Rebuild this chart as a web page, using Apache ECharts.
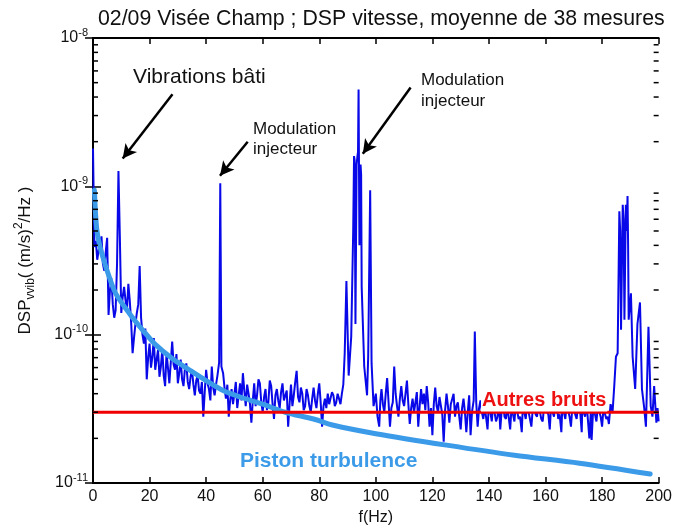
<!DOCTYPE html>
<html>
<head>
<meta charset="utf-8">
<script src="https://cdn.jsdelivr.net/npm/echarts@6/dist/echarts.min.js"></script>
<style>
html,body{margin:0;padding:0;background:#fff;}
#chart{width:675px;height:531px;}
</style>
</head>
<body>
<div id="chart"></div>
<script>
// ---- data ----
const titleText = '02/09 Visée Champ ; DSP vitesse, moyenne de 38 mesures';
const xTicks = [0, 20, 40, 60, 80, 100, 120, 140, 160, 180, 200];
const yDecades = [1e-11, 1e-10, 1e-9, 1e-8];
const yMinorTicks = [2e-11,3e-11,4e-11,5e-11,6e-11,7e-11,8e-11,9e-11,
                     2e-10,3e-10,4e-10,5e-10,6e-10,7e-10,8e-10,9e-10,
                     2e-9,3e-9,4e-9,5e-9,6e-9,7e-9,8e-9,9e-9];
// measured velocity PSD [f (Hz), DSP ((m/s)^2/Hz)]
const dspSpectrum = [
[0,1.8e-9],[0.5,3.9e-10],[1,4.3e-10],[1.5,3.2e-10],[2,3.7e-10],[2.5,4.1e-10],[3,4.6e-10],[3.5,3.0e-10],[4,2.7e-10],[4.5,3.6e-10],[5,4.5e-10],[5.5,1.36e-10],[6,2.0e-10],[6.5,2.4e-10],[7,1.6e-10],[7.5,1.3e-10],[8,1.46e-10],[8.5,3.0e-10],[9,1.27e-9],[9.5,4.5e-10],[10,1.4e-10],[10.5,1.8e-10],[11,2.1e-10],[11.5,1.7e-10],[12,1.46e-10],[12.5,2.2e-10],[13,1.7e-10],[13.5,1.2e-10],[14,7.5e-11],[14.5,9.5e-11],[15,1.18e-10],[15.5,1.4e-10],[16,1.6e-10],[16.5,2.9e-10],[17,1.3e-10],[17.5,1.0e-10],
[18,8.7e-11],[18.5,1.1e-10],[19,5.0e-11],[19.5,7.0e-11],[20,8.7e-11],[20.5,6.0e-11],[21,7.1e-11],[21.5,9.5e-11],[22,5.8e-11],[22.5,6.8e-11],[23,7.9e-11],[23.5,5.2e-11],[24,6.1e-11],[24.5,8.0e-11],[25,5.3e-11],[25.5,4.5e-11],[26,7.5e-11],[26.5,6.0e-11],[27,4.7e-11],[27.5,6.5e-11],[28,9.0e-11],[28.5,6.3e-11],[29,5.8e-11],[29.5,7.4e-11],[30,4.7e-11],
[30.5,5.5e-11],[31,6.8e-11],[31.5,5.0e-11],[32,4.5e-11],[32.5,5.9e-11],[33,6.4e-11],[33.5,4.8e-11],[34,4.3e-11],[34.5,5.2e-11],[35,5.8e-11],[35.5,4.6e-11],[36,3.9e-11],[36.5,4.9e-11],[37,5.3e-11],[37.5,4.2e-11],[38,4.0e-11],[38.5,4.8e-11],[39,2.8e-11],[39.5,4.1e-11],[40,5.8e-11],
[40.5,4.7e-11],[41,4.3e-11],[41.5,3.6e-11],[42,6.1e-11],[42.5,4.4e-11],[43,3.9e-11],[43.5,4.6e-11],[44,5.3e-11],[44.6,6.5e-11],[45,1.05e-9],[45.4,6.1e-11],[46,5.5e-11],[46.5,4.4e-11],[47,3.7e-11],[47.5,4.6e-11],[48,2.8e-11],[48.5,3.6e-11],[49,4.3e-11],[49.5,3.4e-11],[50,4.0e-11],[50.5,4.8e-11],
[51,3.2e-11],[51.5,3.9e-11],[52,4.7e-11],[52.5,3.6e-11],[53,5.5e-11],[53.5,4.2e-11],[54,3.3e-11],[54.5,4.6e-11],[55,4.0e-11],[55.5,3.4e-11],[56,2.55e-11],[56.5,3.6e-11],[57,4.7e-11],[57.5,3.3e-11],[58,3.9e-11],[58.5,5.0e-11],[59,4.7e-11],[59.5,3.5e-11],[60,3.0e-11],
[60.5,3.8e-11],[61,4.3e-11],[61.5,3.1e-11],[62,3.5e-11],[62.5,4.9e-11],[63,4.5e-11],[63.5,3.4e-11],[64,2.7e-11],[64.5,3.9e-11],[65,4.3e-11],[65.5,3.6e-11],[66,3.2e-11],[66.5,4.1e-11],[67,4.7e-11],[67.5,3.6e-11],[68,3.5e-11],[68.5,4.2e-11],[69,2.4e-11],[69.5,3.4e-11],[70,4.6e-11],
[70.5,3.3e-11],[71,3.9e-11],[71.5,4.8e-11],[72,5.7e-11],[72.5,3.8e-11],[73,3.5e-11],[73.5,4.4e-11],[74,4.0e-11],[74.5,3.1e-11],[75,3.3e-11],[75.5,4.3e-11],[76,3.9e-11],[76.5,3.3e-11],[77,3.0e-11],[77.5,3.7e-11],[78,4.4e-11],[78.5,3.6e-11],[79,3.2e-11],[79.5,4.0e-11],[80,4.7e-11],
[80.5,3.5e-11],[81,2.4e-11],[81.5,3.3e-11],[82,3.7e-11],[82.5,3.2e-11],[83,4.0e-11],[83.5,3.4e-11],[84,3.5e-11],[84.5,4.1e-11],[85,3.9e-11],[85.5,3.3e-11],[86,3.5e-11],[86.5,4.0e-11],[87,3.7e-11],[87.5,3.4e-11],[88,4.0e-11],[88.5,4.6e-11],
[89,7.5e-11],[89.6,2.3e-10],[90.4,5.3e-11],[91.3,9.7e-11],[92,5.0e-10],[92.3,1.6e-9],[92.5,1.5e-9],[92.8,1.18e-10],[93.2,1.4e-9],[93.5,1.6e-9],[93.7,1.7e-9],[93.9,4.5e-9],[94.2,4.0e-10],[94.4,1.3e-9],[94.6,1.4e-9],[94.8,1.2e-9],[95,2.1e-10],[95.9,6.1e-11],[96.9,3.9e-11],[97.3,7.1e-11],[98,9.4e-10],[98.5,6.4e-11],[99.2,3.3e-11],[100,4.0e-11],
[100.6,2.8e-11],[101.2,2.4e-11],[101.6,3.6e-11],[102,4.3e-11],[102.5,3.4e-11],[103,3.0e-11],[103.5,4.0e-11],[104,5.1e-11],[104.5,3.5e-11],[105,2.4e-11],[105.5,3.2e-11],[106,3.5e-11],[106.5,6.1e-11],[107,4.0e-11],[107.5,3.3e-11],[108,2.8e-11],[108.5,3.7e-11],[109,4.5e-11],[109.5,3.6e-11],[110,3.3e-11],
[110.5,4.0e-11],[111,4.9e-11],[111.5,3.4e-11],[112,2.5e-11],[112.5,3.2e-11],[113,3.7e-11],[113.5,3.0e-11],[114,3.5e-11],[114.5,4.1e-11],[115,2.4e-11],[115.5,3.3e-11],[116,4.3e-11],[116.5,3.4e-11],[117,4.0e-11],[117.5,3.1e-11],[118,4.5e-11],[118.5,3.5e-11],[119,2.4e-11],[119.5,3.2e-11],[120,2.1e-11],
[120.5,3.4e-11],[121,4.4e-11],[121.5,3.3e-11],[122,3.0e-11],[122.5,3.8e-11],[123,3.7e-11],[123.5,2.9e-11],[124,1.9e-11],[124.5,3.1e-11],[125,4.0e-11],[125.5,3.3e-11],[126,2.55e-11],[126.5,3.4e-11],[127,3.5e-11],[127.5,4.0e-11],[128,2.8e-11],[128.5,3.3e-11],[129,3.5e-11],[129.5,2.8e-11],[130,2.3e-11],
[130.5,3.2e-11],[131,3.7e-11],[131.5,3.0e-11],[132,2.2e-11],[132.5,3.0e-11],[133,3.9e-11],[133.5,2.1e-11],[134,3.0e-11],[134.6,3.6e-11],[135,1.05e-10],[135.5,3.5e-11],[136,2.4e-11],[136.5,3.2e-11],[137,3.6e-11],[137.5,3.0e-11],[138,2.7e-11],[138.5,3.3e-11],[139,3.4e-11],[139.5,2.3e-11],[140,3.5e-11],
[140.5,3.0e-11],[141,2.6e-11],[141.5,3.4e-11],[142,3.3e-11],[142.5,2.6e-11],[143,2.8e-11],[143.5,3.5e-11],[144,2.3e-11],[144.5,3.1e-11],[145,3.5e-11],[145.5,2.8e-11],[146,2.7e-11],[146.5,3.3e-11],[147,3.4e-11],[147.5,2.3e-11],[148,3.3e-11],[148.5,2.9e-11],[149,2.6e-11],[149.5,3.4e-11],[150,3.5e-11],
[150.5,2.7e-11],[151,2.8e-11],[151.6,2.2e-11],[152,3.4e-11],[152.5,3.0e-11],[153,2.7e-11],[153.5,3.4e-11],[154,3.3e-11],[154.5,2.7e-11],[155,2.4e-11],[155.5,3.2e-11],[156,3.5e-11],[156.5,2.9e-11],[157,2.8e-11],[157.5,3.4e-11],[158,3.4e-11],[158.5,2.7e-11],[159,2.6e-11],[159.5,3.3e-11],[160,3.6e-11],
[160.5,3.0e-11],[161,2.9e-11],[161.5,2.3e-11],[162,3.4e-11],[162.5,3.0e-11],[163,2.8e-11],[163.5,3.5e-11],[164,3.3e-11],[164.5,2.7e-11],[165,2.9e-11],[165.6,2.2e-11],[166,3.5e-11],[166.5,3.0e-11],[167,2.7e-11],[167.5,3.4e-11],[168,3.3e-11],[168.5,2.8e-11],[169,2.4e-11],[169.5,3.3e-11],[170,3.4e-11],
[170.5,2.9e-11],[171,2.7e-11],[171.5,3.3e-11],[172,3.5e-11],[172.8,2.2e-11],[173,3.3e-11],[173.5,3.0e-11],[174,2.8e-11],[174.5,3.5e-11],[175,3.4e-11],[175.5,2.0e-11],[176,3.0e-11],[176.3,1.95e-11],[176.7,2.8e-11],[177,3.3e-11],[177.5,2.9e-11],[178,2.6e-11],[178.5,3.3e-11],[179,3.4e-11],[179.5,2.8e-11],[180,2.4e-11],
[180.5,3.2e-11],[181,3.3e-11],[181.5,2.7e-11],[182,2.8e-11],[182.4,2.5e-11],[183,3.4e-11],[183.7,3.0e-11],[184.3,4.5e-11],[184.9,7.1e-11],[185.5,7.5e-11],[186.1,6.8e-10],[186.4,5.0e-10],[186.7,1.08e-10],[187.3,7.5e-10],[187.6,6.0e-10],[187.9,1.26e-10],[188.4,7.5e-10],[188.7,5.0e-10],[189,8.6e-10],[189.2,4.0e-10],[189.4,1.26e-10],[190.2,1.9e-10],
[190.8,7.1e-11],[191.7,4.3e-11],[192.5,1.18e-10],[193.4,1.65e-10],[194.1,4.3e-11],[194.9,3.2e-11],[195.5,2.4e-11],[196.4,1.13e-10],[197.2,3.3e-11],[197.8,2.8e-11],[198.4,4.5e-11],[199.2,2.55e-11],[199.6,3.2e-11],[200,2.6e-11]
];
// "Piston turbulence" model curve [f, DSP]
const pistonTurbulence = [
[0.5,9.4e-10],[1.3,5.2e-10],[2.5,3.9e-10],[5,2.7e-10],[8,1.9e-10],[13,1.38e-10],[18,1.05e-10],[22,8.6e-11],[28,6.9e-11],[34,5.8e-11],[40,4.9e-11],[46,4.2e-11],[52,3.8e-11],[60,3.4e-11],[68,3.0e-11],[78,2.7e-11],[85,2.45e-11],[100,2.15e-11],[125,1.8e-11],[149,1.54e-11],[172,1.36e-11],[197,1.15e-11]
];
// "Autres bruits" level
const otherNoiseLevel = 3.0e-11;
const otherNoiseRange = [0, 200];

// ---- chart ----
const FONT = '"Liberation Sans", Arial, Helvetica, sans-serif';
const chart = echarts.init(document.getElementById('chart'), null, {renderer: 'canvas'});

const supRich = {
  base: {fontSize: 16, fontFamily: FONT, color: '#111', lineHeight: 22, verticalAlign: 'middle'},
  sup: {fontSize: 11, fontFamily: FONT, color: '#111', lineHeight: 11, verticalAlign: 'top'}
};
function decadeLabel(v) {
  const e = Math.round(Math.log10(v));
  return '{base|10}{sup|' + e + '}';
}
const axisLineStyle = {color: '#000', width: 2};

const option = {
  animation: false,
  backgroundColor: '#fff',
  title: {
    text: titleText,
    left: 93, top: 4,
    textStyle: {fontFamily: FONT, fontSize: 21.3, fontWeight: 'normal', color: '#111'}
  },
  grid: {left: 93, right: 12, top: 38, bottom: 43, containLabel: false},
  xAxis: [{
    type: 'value', min: xTicks[0], max: xTicks[xTicks.length - 1], interval: 20,
    position: 'bottom',
    axisLine: {lineStyle: axisLineStyle},
    axisTick: {inside: true, length: 6, lineStyle: {color: '#000', width: 1.5}},
    axisLabel: {fontFamily: FONT, fontSize: 16, color: '#111', margin: 6},
    splitLine: {show: false},
    name: 'f(Hz)', nameLocation: 'middle', nameGap: 27,
    nameTextStyle: {fontFamily: FONT, fontSize: 16, color: '#111'}
  }, {
    type: 'value', min: xTicks[0], max: xTicks[xTicks.length - 1], interval: 20,
    position: 'top',
    axisLine: {lineStyle: axisLineStyle},
    axisTick: {inside: true, length: 6, lineStyle: {color: '#000', width: 1.5}},
    axisLabel: {show: false},
    splitLine: {show: false}
  }],
  yAxis: [{
    type: 'log', logBase: 10, min: yDecades[0], max: yDecades[yDecades.length - 1],
    position: 'left',
    axisLine: {lineStyle: axisLineStyle},
    axisTick: {show: true, inside: true, length: 8, lineStyle: {color: '#000', width: 1.5}},
    axisLabel: {formatter: decadeLabel, rich: supRich, margin: 5},
    splitLine: {show: false},
    minorTick: {show: false},
    name: '{base|DSP}{sub|vvib}{base|( (m/s)}{sup|2}{base|/Hz )}',
    nameLocation: 'middle', nameGap: 56, nameRotate: 90,
    nameTextStyle: {
      rich: {
        base: {fontSize: 17, fontFamily: FONT, color: '#111', lineHeight: 24, verticalAlign: 'middle'},
        sub: {fontSize: 12, fontFamily: FONT, color: '#111', lineHeight: 12, verticalAlign: 'bottom'},
        sup: {fontSize: 12, fontFamily: FONT, color: '#111', lineHeight: 12, verticalAlign: 'top'}
      }
    }
  }, {
    type: 'log', logBase: 10, min: yDecades[0], max: yDecades[yDecades.length - 1],
    position: 'right',
    axisLine: {lineStyle: axisLineStyle},
    axisTick: {show: true, inside: true, length: 8, lineStyle: {color: '#000', width: 1.5}},
    axisLabel: {show: false},
    splitLine: {show: false}
  }],
  series: [
    {
      name: 'DSP', type: 'line', xAxisIndex: 0, yAxisIndex: 0,
      data: dspSpectrum, showSymbol: false, symbol: 'none',
      lineStyle: {color: '#0808e8', width: 2}, z: 2,
      markLine: {
        silent: true, symbol: ['none', 'arrow'], symbolSize: [11, 14],
        label: {show: false},
        lineStyle: {color: '#000', width: 2.5, type: 'solid'},
        data: [
          [{coord: [28.1, 4.17e-9]}, {coord: [10.5, 1.54e-9]}],
          [{coord: [54.7, 2.0e-9]}, {coord: [44.9, 1.18e-9]}],
          [{coord: [112.3, 4.64e-9]}, {coord: [95.4, 1.66e-9]}]
        ]
      }
    },
    {
      name: 'Piston turbulence', type: 'line', xAxisIndex: 0, yAxisIndex: 0,
      data: pistonTurbulence, showSymbol: false, symbol: 'none', smooth: 0.3,
      lineStyle: {color: '#3c9be8', width: 5, cap: 'round'}, z: 3
    },
    {
      name: 'Autres bruits', type: 'line', xAxisIndex: 0, yAxisIndex: 0,
      data: otherNoiseRange.map(f => [f, otherNoiseLevel]), showSymbol: false, symbol: 'none',
      lineStyle: {color: '#f00000', width: 3}, z: 4
    },
    {
      name: 'minorTicks', type: 'custom', xAxisIndex: 0, yAxisIndex: 0, silent: true, z: 10,
      data: yMinorTicks.map(v => [xTicks[0], v]),
      clip: false,
      renderItem: function (params, api) {
        const p = api.coord([api.value(0), api.value(1)]);
        const cs = params.coordSys;
        const st = {stroke: '#000', lineWidth: 1.5};
        return {type: 'group', children: [
          {type: 'line', shape: {x1: p[0], y1: p[1], x2: p[0] + 5, y2: p[1]}, style: st},
          {type: 'line', shape: {x1: cs.x + cs.width - 5, y1: p[1], x2: cs.x + cs.width, y2: p[1]}, style: st}
        ]};
      }
    }
  ],
  graphic: [
    {type: 'text', z: 100, x: 133, y: 77,
     style: {text: 'Vibrations bâti', font: '21px ' + FONT, fill: '#111', align: 'left', verticalAlign: 'middle', textAlign: 'left', textVerticalAlign: 'middle'}},
    {type: 'text', z: 100, x: 253, y: 139,
     style: {text: 'Modulation\ninjecteur', font: '17px ' + FONT, fill: '#111', lineHeight: 20, align: 'left', verticalAlign: 'middle', textAlign: 'left', textVerticalAlign: 'middle'}},
    {type: 'text', z: 100, x: 421, y: 91,
     style: {text: 'Modulation\ninjecteur', font: '17px ' + FONT, fill: '#111', lineHeight: 21, align: 'left', verticalAlign: 'middle', textAlign: 'left', textVerticalAlign: 'middle'}},
    {type: 'text', z: 100, x: 481, y: 400,
     style: {text: 'Autres bruits', font: 'bold 20px ' + FONT, fill: '#ee1111', backgroundColor: '#fff', padding: [1, 1, 0, 1], lineHeight: 22, align: 'left', verticalAlign: 'middle', textAlign: 'left', textVerticalAlign: 'middle'}},
    {type: 'text', z: 100, x: 240, y: 461,
     style: {text: 'Piston turbulence', font: 'bold 21px ' + FONT, fill: '#3c9be8', align: 'left', verticalAlign: 'middle', textAlign: 'left', textVerticalAlign: 'middle'}}
  ]
};
chart.setOption(option);
</script>
</body>
</html>
